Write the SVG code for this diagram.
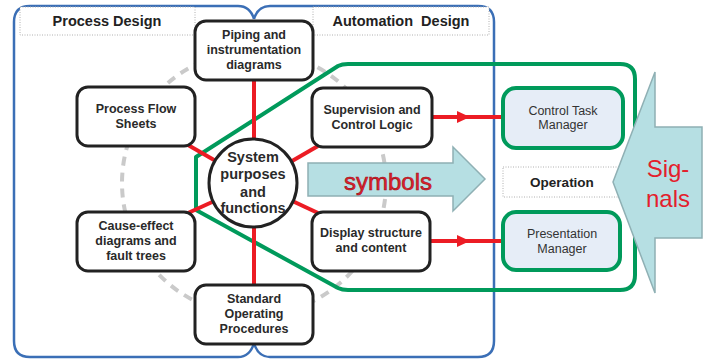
<svg xmlns="http://www.w3.org/2000/svg" width="708" height="360" viewBox="0 0 708 360">
  <defs>
    <marker id="redHead" viewBox="0 0 13 12" refX="13" refY="6" markerWidth="13" markerHeight="12" markerUnits="userSpaceOnUse" orient="auto">
      <path d="M0,0 L13,6 L0,12 Z" fill="#ec1c24"/>
    </marker>
    <style>
      .frame { fill: none; stroke: #3b6fb6; stroke-width: 2.5; }
      .hdr { fill: #fff; stroke: #b0b0b0; stroke-width: 1; stroke-dasharray: 1 1.5; }
      .hdrText { font-family: "Liberation Sans", Arial, sans-serif; font-weight: bold; font-size: 14.5px; fill: #222; text-anchor: middle; }
      .ring { fill: none; stroke: #cacaca; stroke-width: 4; stroke-dasharray: 9 7; }
      .link { stroke: #ec1c24; stroke-width: 4; fill: none; }
      .zone { fill: none; stroke: #009a5b; stroke-width: 4; stroke-linejoin: round; }
      .node { fill: #fff; stroke: #222; stroke-width: 3; }
      .nodeText { font-family: "Liberation Sans", Arial, sans-serif; font-weight: bold; font-size: 12.5px; fill: #2a2a2a; text-anchor: middle; }
      .hub { font-size: 14.5px; }
      .mgr { fill: #e6edf7; stroke: #009a5b; stroke-width: 4; }
      .mgrText { font-family: "Liberation Sans", Arial, sans-serif; font-size: 12.5px; fill: #333; text-anchor: middle; }
      .bigArrow { fill: #b6dfe3; stroke: #8fb0b4; stroke-width: 1.5; stroke-linejoin: miter; }
      .redText { font-family: "Liberation Sans", Arial, sans-serif; font-size: 24px; fill: #e3202c; text-anchor: middle; }
      .outlined { stroke: #9a1019; stroke-width: 0.6; }
    </style>
  </defs>

  <rect width="708" height="360" fill="#fff"/>

  <!-- design area frames, joined by braces -->
  <g id="frames">
    <path class="frame" d="M254,19 Q250,6 238,6 H30 Q14,6 14,22 V341 Q14,357 30,357 H238 Q250,357 254,343"/>
    <path class="frame" d="M254,19 Q258,6 270,6 H478 Q494,6 494,22 V341 Q494,357 478,357 H270 Q258,357 254,343"/>
  </g>

  <!-- section headers -->
  <g id="header-process">
    <rect class="hdr" x="20" y="7" width="175" height="28"/>
    <text class="hdrText" x="107" y="26">Process Design</text>
  </g>
  <g id="header-automation">
    <rect class="hdr" x="313" y="7" width="176" height="28"/>
    <text class="hdrText" x="401" y="26" xml:space="preserve">Automation  Design</text>
  </g>
  <g id="header-operation">
    <rect class="hdr" x="503" y="167" width="116" height="30"/>
    <text class="hdrText" x="562" y="187" style="font-size:13.5px">Operation</text>
  </g>

  <!-- dashed ring through the outer nodes -->
  <circle class="ring" cx="254" cy="183" r="132"/>

  <!-- automation zone outline -->
  <path id="automation-zone" class="zone" d="M196,157 L338,66 Q342,64 348,64 H620 Q635,64 635,79 V275 Q635,290 620,290 H348 Q342,290 338,288 L196,210 Z"/>

  <!-- connectors -->
  <g id="connectors">
    <line class="link" x1="254" y1="183" x2="254" y2="80"/>
    <line class="link" x1="254" y1="183" x2="254" y2="285"/>
    <line class="link" x1="254" y1="183" x2="188" y2="145"/>
    <line class="link" x1="254" y1="183" x2="188" y2="213"/>
    <line class="link" x1="254" y1="183" x2="318" y2="146"/>
    <line class="link" x1="254" y1="183" x2="318" y2="213"/>
    <path class="link" d="M432,117 L470,117 L504,117" marker-mid="url(#redHead)"/>
    <path class="link" d="M430,241 L470,241 L504,241" marker-mid="url(#redHead)"/>
  </g>

  <!-- symbols arrow -->
  <g id="symbols">
    <path class="bigArrow" d="M308,163 H453 V147 L485,179 L453,211 V196 H308 Z"/>
    <text class="redText outlined" x="388" y="190">symbols</text>
  </g>

  <!-- nodes -->
  <g id="piping">
    <rect class="node" x="195" y="21" width="118" height="59" rx="11"/>
    <text class="nodeText" x="254" y="39">Piping and</text>
    <text class="nodeText" x="254" y="54">instrumentation</text>
    <text class="nodeText" x="254" y="69">diagrams</text>
  </g>
  <g id="process-flow">
    <rect class="node" x="77" y="87" width="118" height="59" rx="11"/>
    <text class="nodeText" x="136" y="113">Process Flow</text>
    <text class="nodeText" x="136" y="128">Sheets</text>
  </g>
  <g id="cause-effect">
    <rect class="node" x="77" y="212" width="118" height="59" rx="11"/>
    <text class="nodeText" x="136" y="230">Cause-effect</text>
    <text class="nodeText" x="136" y="245">diagrams and</text>
    <text class="nodeText" x="136" y="260">fault trees</text>
  </g>
  <g id="sop">
    <rect class="node" x="195" y="285" width="118" height="59" rx="11"/>
    <text class="nodeText" x="254" y="303">Standard</text>
    <text class="nodeText" x="254" y="318">Operating</text>
    <text class="nodeText" x="254" y="333">Procedures</text>
  </g>
  <g id="supervision">
    <rect class="node" x="312" y="88" width="120" height="59" rx="11"/>
    <text class="nodeText" x="372" y="114">Supervision and</text>
    <text class="nodeText" x="372" y="129">Control Logic</text>
  </g>
  <g id="display">
    <rect class="node" x="312" y="212" width="118" height="59" rx="11"/>
    <text class="nodeText" x="371" y="237">Display structure</text>
    <text class="nodeText" x="371" y="252">and content</text>
  </g>
  <g id="system">
    <circle class="node" cx="253" cy="183" r="44"/>
    <text class="nodeText hub" x="253" y="162">System</text>
    <text class="nodeText hub" x="253" y="179">purposes</text>
    <text class="nodeText hub" x="253" y="197">and</text>
    <text class="nodeText hub" x="253" y="213">functions</text>
  </g>

  <!-- managers -->
  <g id="control-task-manager">
    <rect class="mgr" x="503" y="88" width="120" height="60" rx="13"/>
    <text class="mgrText" x="563" y="115">Control Task</text>
    <text class="mgrText" x="563" y="129">Manager</text>
  </g>
  <g id="presentation-manager">
    <rect class="mgr" x="503" y="212" width="117" height="58" rx="13"/>
    <text class="mgrText" x="562" y="238">Presentation</text>
    <text class="mgrText" x="562" y="253">Manager</text>
  </g>

  <!-- signals arrow -->
  <g id="signals">
    <path class="bigArrow" d="M702,127 H655 V72 L613,182 L655,293 V238 H702 Z"/>
    <text class="redText" x="668" y="177">Sig-</text>
    <text class="redText" x="668" y="207">nals</text>
  </g>
</svg>
